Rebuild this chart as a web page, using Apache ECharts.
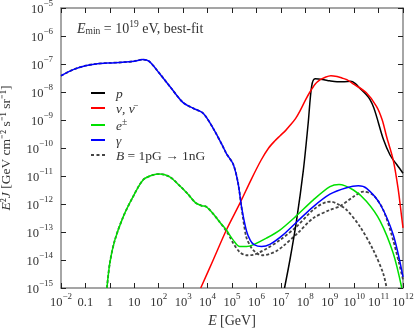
<!DOCTYPE html>
<html>
<head>
<meta charset="utf-8">
<script src="https://cdn.jsdelivr.net/npm/echarts@6/dist/echarts.min.js"></script>
<style>
html, body { margin: 0; padding: 0; background: #fff; }
#chart { width: 415px; height: 333px; }
</style>
</head>
<body>
<div id="chart"></div>
<script>
// all values are log10 of E [GeV] and log10 of E^2 J
const pLogE = [7.15, 7.37, 7.64, 7.92, 8.12, 8.26, 8.4, 8.7, 9.0, 9.3, 9.6, 9.85, 10.05, 10.25, 10.5, 10.65, 10.8, 10.92, 11.2, 11.47, 11.75, 12.0];
const pLogJ = [-15, -14, -12.6, -10.8, -9.1, -7.8, -7.53, -7.55, -7.6, -7.63, -7.63, -7.62, -7.7, -7.88, -8.1, -8.27, -8.55, -8.88, -9.7, -10.25, -10.6, -10.9];

const nuLogE = [3.72, 4.23, 4.77, 5.32, 5.8, 6.2, 6.5, 6.75, 6.96, 7.2, 7.37, 7.6, 7.78, 8.0, 8.19, 8.4, 8.6, 8.8, 9.05, 9.3, 9.5, 9.7, 10.0, 10.5, 10.92, 11.15, 11.33, 11.6, 11.8, 11.95, 12.0];
const nuLogJ = [-15, -14.0, -12.93, -11.98, -11.1, -10.42, -10.0, -9.75, -9.57, -9.37, -9.2, -8.95, -8.68, -8.3, -8.0, -7.72, -7.57, -7.48, -7.42, -7.45, -7.5, -7.56, -7.73, -8.03, -8.52, -9.0, -9.6, -10.43, -11.45, -12.5, -12.85];

const eLogE = [-0.12, 0.0, 0.2, 0.55, 0.95, 1.36, 1.77, 2.05, 2.45, 2.86, 3.2, 3.5, 3.75, 3.95, 4.23, 4.5, 4.77, 5.05, 5.32, 5.6, 5.86, 6.41, 6.96, 7.6, 8.32, 9.01, 9.38, 9.97, 10.5, 11.06, 11.6, 11.95];
const eLogJ = [-15, -14.1, -13.3, -12.45, -11.74, -11.14, -10.96, -10.93, -11.03, -11.35, -11.65, -11.95, -12.06, -12.1, -12.35, -12.65, -12.93, -13.29, -13.52, -13.52, -13.46, -13.22, -12.93, -12.45, -11.86, -11.38, -11.3, -11.5, -11.9, -12.6, -13.76, -15];

const gLogE = [-2, -1.5, -1, -0.5, 0, 0.5, 1.0, 1.35, 1.6, 2.0, 2.5, 3.0, 3.41, 3.82, 4.23, 4.63, 4.77, 5.05, 5.25, 5.39, 5.59, 5.75, 5.9, 6.21, 6.55, 7.09, 7.64, 8.32, 9.01, 9.69, 10.17, 10.51, 11.06, 11.6, 12.0];
const gLogJ = [-7.42, -7.2, -7.06, -6.99, -6.96, -6.94, -6.9, -6.84, -6.9, -7.3, -7.85, -8.38, -8.58, -8.76, -9.3, -9.95, -10.2, -10.58, -11.26, -12.1, -12.95, -13.3, -13.45, -13.52, -13.44, -13.1, -12.65, -12.1, -11.65, -11.42, -11.35, -11.44, -12.0, -13.1, -14.6];

// B = 1pG -> 1nG (dashed)
const bgLogE = [-2, -1.5, -1, -0.5, 0, 0.5, 1.0, 1.35, 1.6, 2.0, 2.5, 3.0, 3.41, 3.82, 4.23, 4.63, 4.77, 5.05, 5.25, 5.45, 5.59, 5.75, 5.86, 6.05, 6.27, 6.55, 6.82, 7.1, 7.64, 8.32, 9.01, 9.42, 9.97, 10.37, 10.78, 11.19, 11.6, 12.0];
const bgLogJ = [-7.42, -7.2, -7.06, -6.99, -6.96, -6.94, -6.9, -6.84, -6.9, -7.3, -7.85, -8.38, -8.58, -8.76, -9.3, -9.95, -10.2, -10.58, -11.26, -12.5, -13.2, -13.5, -13.64, -13.78, -13.83, -13.78, -13.68, -13.5, -13.08, -12.51, -12.21, -12.08, -11.74, -11.56, -11.68, -12.21, -13.3, -14.7];

const beLogE = [-0.12, 0.0, 0.2, 0.55, 0.95, 1.36, 1.77, 2.05, 2.45, 2.86, 3.2, 3.5, 3.75, 3.95, 4.23, 4.5, 4.77, 4.91, 5.05, 5.32, 5.59, 5.86, 6.14, 6.41, 6.96, 7.64, 8.32, 8.87, 9.07, 9.28, 9.69, 10.24, 10.78, 11.19, 11.33];
const beLogJ = [-15, -14.1, -13.3, -12.45, -11.74, -11.14, -10.96, -10.93, -11.03, -11.35, -11.65, -11.95, -12.06, -12.1, -12.35, -12.65, -12.97, -13.17, -13.4, -13.72, -13.83, -13.82, -13.72, -13.6, -13.29, -12.81, -12.21, -11.93, -11.92, -11.98, -12.21, -12.81, -13.64, -14.48, -15];

const FONT = 'Liberation Serif';
const TXT = '#333';

function pts(xs, ys) {
    return xs.map((x, i) => [Math.pow(10, x), Math.pow(10, ys[i])]);
}

function expStr(n) {
    return String(n).replace('-', '\u2212');
}

function xLabel(v) {
    const n = Math.round(Math.log10(v));
    if (n === -1) return '{b|0.1}';
    if (n === 0) return '{b|1}';
    if (n === 1) return '{b|10}';
    return '{b|10}{s|' + expStr(n) + '}';
}

function yLabel(v) {
    const n = Math.round(Math.log10(v));
    return '{b|10}{s|' + expStr(n) + '}';
}

const labelRich = {
    b: { fontFamily: FONT, fontSize: 12.5, color: TXT, lineHeight: 17, verticalAlign: 'bottom' },
    s: { fontFamily: FONT, fontSize: 9, color: TXT, lineHeight: 9, verticalAlign: 'top' }
};

const textRich = {
    i: { fontFamily: FONT, fontSize: 14, fontStyle: 'italic', color: TXT, lineHeight: 17, verticalAlign: 'bottom' },
    t: { fontFamily: FONT, fontSize: 14, color: TXT, lineHeight: 17, verticalAlign: 'bottom' },
    s: { fontFamily: FONT, fontSize: 9.5, color: TXT, lineHeight: 9, verticalAlign: 'top' },
    d: { fontFamily: FONT, fontSize: 9.5, color: TXT, lineHeight: 8, verticalAlign: 'bottom' }
};

const nameRich = {
    i: { fontFamily: FONT, fontSize: 13.5, fontStyle: 'italic', color: TXT },
    t: { fontFamily: FONT, fontSize: 13.5, color: TXT }
};

const legendRich = {
    i: { fontFamily: FONT, fontSize: 13.5, fontStyle: 'italic', color: TXT, lineHeight: 16, verticalAlign: 'bottom' },
    t: { fontFamily: FONT, fontSize: 13.5, color: TXT, lineHeight: 16, verticalAlign: 'bottom' },
    s: { fontFamily: FONT, fontSize: 9.5, color: TXT, lineHeight: 9, verticalAlign: 'top' }
};

const legendText = {
    'p': '{i|p}',
    'nu': '{i|\u03bd, \u03bd\u0304}',
    'e': '{i|e}{s|\u00b1}',
    'gamma': '{i|\u03b3}',
    'B': '{i|B}{t| = 1pG \u2192 1nG}'
};

const dashIcon = 'path://M0,0h3v2h-3z M5.5,0h3v2h-3z M11,0h3v2h-3z';

const frame = { show: true, lineStyle: { color: '#888', width: 1.5 } };
const ticks = { show: true, inside: true, length: 5, lineStyle: { color: '#222', width: 1 } };

const dom = document.getElementById('chart');
const myChart = echarts.init(dom, null, { renderer: 'canvas' });

const option = {
    animation: false,
    backgroundColor: '#fff',
    title: {
        text: '{i|E}{d|min}{t| = 10}{s|19}{t| eV, best-fit}',
        left: 77,
        top: 19,
        padding: 0,
        textStyle: { rich: textRich, fontWeight: 'normal' }
    },
    legend: {
        orient: 'vertical',
        left: 86,
        top: 82,
        itemWidth: 14,
        itemHeight: 2,
        itemGap: 1,
        data: [
            { name: 'p', icon: 'rect' },
            { name: 'nu', icon: 'rect' },
            { name: 'e', icon: 'rect' },
            { name: 'gamma', icon: 'rect' },
            { name: 'B', icon: dashIcon }
        ],
        formatter: function (name) { return legendText[name]; },
        textStyle: { rich: legendRich, fontFamily: FONT, fontSize: 13, color: TXT, padding: [0, 0, 0, 6] }
    },
    grid: { left: 61, right: 12, top: 8, bottom: 45, outerBoundsMode: 'none' },
    xAxis: [{
        type: 'log',
        logBase: 10,
        min: 1e-2,
        max: 1e12,
        interval: 1,
        name: '{i|E} {t|[GeV]}',
        nameLocation: 'middle',
        nameGap: 22,
        nameTextStyle: { rich: textRich },
        axisLine: frame,
        axisTick: ticks,
        minorTick: { show: false },
        splitLine: { show: false },
        axisLabel: { formatter: xLabel, rich: labelRich, margin: 4, hideOverlap: false }
    }, {
        type: 'log',
        logBase: 10,
        position: 'top',
        min: 1e-2,
        max: 1e12,
        interval: 1,
        axisLine: frame,
        axisTick: ticks,
        splitLine: { show: false },
        axisLabel: { show: false }
    }],
    yAxis: [{
        type: 'log',
        logBase: 10,
        min: 1e-15,
        max: 1e-5,
        interval: 1,
        name: '{i|E}{t|\u00b2}{i|J}{t| [GeV cm\u207b\u00b2 s\u207b\u00b9 sr\u207b\u00b9]}',
        nameLocation: 'middle',
        nameRotate: 90,
        nameGap: 48,
        nameTextStyle: { rich: nameRich },
        axisLine: frame,
        axisTick: ticks,
        splitLine: { show: false },
        axisLabel: { formatter: yLabel, rich: labelRich, margin: 8 }
    }, {
        type: 'log',
        logBase: 10,
        position: 'right',
        min: 1e-15,
        max: 1e-5,
        interval: 1,
        axisLine: frame,
        axisTick: ticks,
        splitLine: { show: false },
        axisLabel: { show: false }
    }],
    series: [
        {
            name: 'B', type: 'line', data: pts(bgLogE, bgLogJ), symbol: 'none', smooth: 0.3,
            lineStyle: { color: '#444', width: 1.8, type: [3, 2] }, itemStyle: { color: '#444' }
        },
        {
            name: 'B', type: 'line', data: pts(beLogE, beLogJ), symbol: 'none', smooth: 0.3,
            lineStyle: { color: '#444', width: 1.8, type: [3, 2] }, itemStyle: { color: '#444' }
        },
        {
            name: 'p', type: 'line', data: pts(pLogE, pLogJ), symbol: 'none', smooth: 0.3,
            lineStyle: { color: '#000', width: 1.5 }, itemStyle: { color: '#000' }
        },
        {
            name: 'nu', type: 'line', data: pts(nuLogE, nuLogJ), symbol: 'none', smooth: 0.3,
            lineStyle: { color: '#ff0000', width: 1.5 }, itemStyle: { color: '#ff0000' }
        },
        {
            name: 'e', type: 'line', data: pts(eLogE, eLogJ), symbol: 'none', smooth: 0.3,
            lineStyle: { color: '#00e000', width: 1.5 }, itemStyle: { color: '#00e000' }
        },
        {
            name: 'gamma', type: 'line', data: pts(gLogE, gLogJ), symbol: 'none', smooth: 0.3,
            lineStyle: { color: '#0000ff', width: 1.5 }, itemStyle: { color: '#0000ff' }
        }
    ]
};

if (option && typeof option === 'object') {
    myChart.setOption(option, true);
}
</script>
</body>
</html>
